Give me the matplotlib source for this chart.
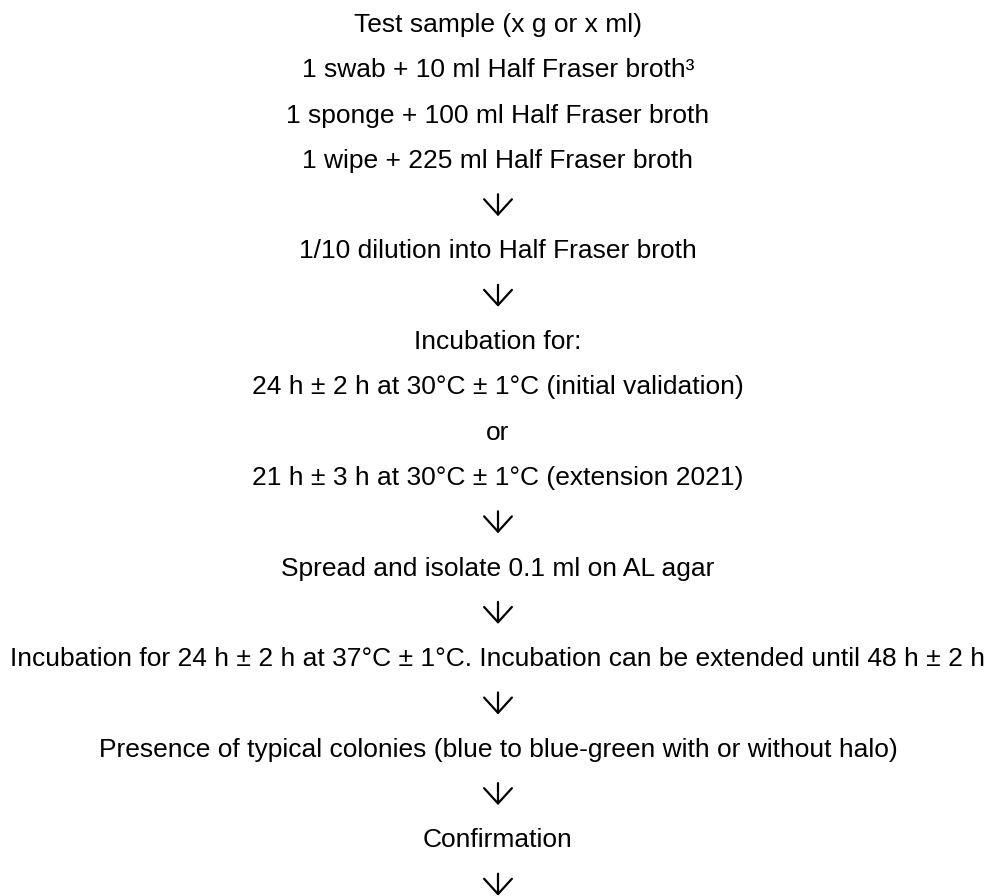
import matplotlib
matplotlib.use("Agg")
import matplotlib.pyplot as plt

plt.rcParams['font.family'] = ['Liberation Sans', 'DejaVu Sans']

ARROW = "->"
steps = [
    "Test sample (x g or x ml)",
    "1 swab + 10 ml Half Fraser broth\u00b3",
    "1 sponge + 100 ml Half Fraser broth",
    "1 wipe + 225 ml Half Fraser broth",
    ARROW,
    "1/10 dilution into Half Fraser broth",
    ARROW,
    "Incubation for:",
    "24 h \u00b1 2 h at 30\u00b0C \u00b1 1\u00b0C (initial validation)",
    "or",
    "21 h \u00b1 3 h at 30\u00b0C \u00b1 1\u00b0C (extension 2021)",
    ARROW,
    "Spread and isolate 0.1 ml on AL agar",
    ARROW,
    "Incubation for 24 h \u00b1 2 h at 37\u00b0C \u00b1 1\u00b0C. Incubation can be extended until 48 h \u00b1 2 h",
    ARROW,
    "Presence of typical colonies (blue to blue-green with or without halo)",
    ARROW,
    "Confirmation",
    ARROW,
]

fig = plt.figure(figsize=(9.95, 8.96), dpi=100)
ax = fig.add_axes([0, 0, 1, 1])
ax.set_xlim(0, 995)
ax.set_ylim(896, 0)
ax.axis('off')

x_mid = 498
y0 = 25
dy = 45.3
for i, s in enumerate(steps):
    y = y0 + i * dy
    if s == ARROW:
        ax.annotate("", xy=(x_mid, y + 10), xytext=(x_mid, y - 12),
                    annotation_clip=False,
                    arrowprops=dict(arrowstyle="->, head_length=0.55, head_width=0.5",
                                    lw=1.6, color='black', shrinkA=0, shrinkB=0,
                                    mutation_scale=20))
    else:
        ax.text(x_mid, y, s, ha='center', va='center', fontsize=19, color='black')

fig.savefig("out.png", dpi=100, facecolor='white')
